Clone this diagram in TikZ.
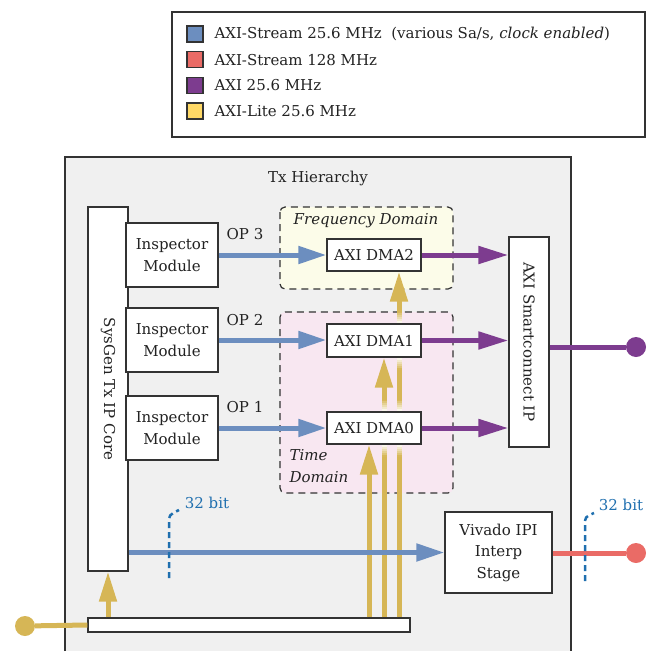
\documentclass[tikz,border=0pt]{standalone}
\usepackage{fontspec}
\setmainfont{DejaVu Serif}
\usetikzlibrary{arrows.meta, positioning, calc}
\definecolor{streamBlue}{HTML}{6C8EBF}
\definecolor{streamRed}{HTML}{EA6B66}
\definecolor{axiPurple}{HTML}{7D3C8F}
\definecolor{liteYellow}{HTML}{FFD966}
\definecolor{liteLine}{HTML}{D6B656}
\definecolor{bitBlue}{HTML}{1F6FAF}
\definecolor{edgeGray}{HTML}{333333}
\definecolor{textGray}{HTML}{222222}
\definecolor{hierFill}{HTML}{F0F0F0}
\definecolor{freqFill}{HTML}{FCFCE9}
\definecolor{timeFill}{HTML}{F8E7F1}
\tikzset{
  block/.style={draw=edgeGray, fill=white, line width=1.3pt, inner sep=0pt, align=center},
  swatch/.style={draw=edgeGray, line width=1.3pt, minimum size=16pt, inner sep=0pt},
  region/.style={draw=edgeGray, line width=1.2pt, dash pattern=on 7pt off 5pt, rounded corners=5pt},
  note/.style={font=\fontsize{15}{21.5}\selectfont\itshape},
  dot/.style={circle, minimum size=20pt, inner sep=0pt},
  blue stream/.style={streamBlue, line width=5pt, -{Triangle[length=28pt, width=17pt]}},
  axi link/.style={axiPurple, line width=5pt, -{Triangle[length=30pt, width=17pt]}},
  lite line/.style={liteLine, line width=5pt},
  lite arrow/.style={lite line, -{Triangle[length=30pt, width=17pt]}},
  bitmark/.style={bitBlue, line width=2.5pt, dash pattern=on 6pt off 4pt}
}
% fade of a lite line next to a box edge: #1 edge point, #2 = 1 (below) or -1 (above)
\newcommand{\liteFade}[2]{%
  \foreach \k [evaluate=\k as \p using int(12+17*\k)] in {0,...,5}
    \fill[liteLine!\p!white] ($#1+(-2.5,#2*2*\k)$) rectangle ($#1+(2.5,#2*2*\k+#2*2.4)$);}

\begin{document}
\begin{tikzpicture}[x=1pt, y=-1pt, font=\fontsize{15}{21.5}\selectfont, text=textGray]
    \useasboundingbox (0,0) rectangle (656,651);

    % legend
    \draw[edgeGray, line width=2pt] (172,12) rectangle (645,137);
    \foreach \swcol/\entry [count=\i] in {streamBlue/{AXI-Stream 25.6 MHz\ \ (various Sa/s, \textit{clock enabled})}, streamRed/{AXI-Stream 128 MHz}, axiPurple/{AXI 25.6 MHz}, liteYellow/{AXI-Lite 25.6 MHz}}
    {
        \node[swatch, fill=\swcol] (sw\i) at (195, 8.3+25.7*\i) {};
        \node[anchor=west] (key\i) at (211, 8.3+25.7*\i) {\entry};
    }

    % hierarchy
    \fill[hierFill] (65,157) rectangle (571,651);
    \draw[edgeGray, line width=2pt] (65,651) -- (65,157) -- (571,157) -- (571,651);
    \node (hiertitle) at (318,178) {Tx Hierarchy};

    \draw[region, fill=freqFill] (280,207) rectangle (453,289);
    \draw[region, fill=timeFill] (280,312) rectangle (453,493);
    \node[note] (freqlabel) at (366,221) {Frequency Domain};
    \node[note, anchor=west, align=left] (timelabel) at (286,466) {Time\\Domain};

    % blocks
    \node[block, minimum width=40pt, minimum height=364pt] (sysgen) at (108,389) {};
    \node[rotate=-90] (sysgentext) at (sysgen) {SysGen Tx IP Core};
    \node[block, minimum width=92pt, minimum height=64pt] (insp3) at (172,255) {Inspector\\Module};
    \node[block, minimum width=92pt, minimum height=64pt] (insp2) at (172,340) {Inspector\\Module};
    \node[block, minimum width=92pt, minimum height=64pt] (insp1) at (172,428) {Inspector\\Module};
    \node[block, minimum width=94pt, minimum height=32pt] (dma2) at (374,255) {AXI DMA2};
    \node[block, minimum width=94pt, minimum height=33pt] (dma1) at (374,340.5) {AXI DMA1};
    \node[block, minimum width=94pt, minimum height=32pt] (dma0) at (374,428) {AXI DMA0};
    \node[block, minimum width=40pt, minimum height=210pt] (smart) at (529,342) {};
    \node[rotate=-90] (smarttext) at (smart) {AXI Smartconnect IP};
    \node[block, minimum width=107pt, minimum height=81pt] (vivado) at (498.5,552.5) {Vivado IPI\\Interp\\Stage};

    % AXI-Lite lines
    \coordinate (l1) at (369,0);
    \coordinate (l2) at (384,0);
    \coordinate (l3) at (399,0);
    \node[block, minimum width=322pt, minimum height=14pt] (clkbar) at (249,625) {};
    \draw[lite arrow] (l1 |- clkbar.north) -- (l1 |- dma0.south);
    \draw[lite line] (l2 |- clkbar.north) -- ($(l2 |- dma0.south)+(0,11)$);
    \draw[lite line] (l3 |- clkbar.north) -- ($(l3 |- dma0.south)+(0,11)$);
    \liteFade{(l2 |- dma0.south)}{1}
    \liteFade{(l3 |- dma0.south)}{1}
    \liteFade{(l2 |- dma0.north)}{-1}
    \liteFade{(l3 |- dma0.north)}{-1}
    \draw[lite arrow] ($(l2 |- dma0.north)+(0,-11)$) -- (l2 |- dma1.south);
    \draw[lite line] ($(l3 |- dma0.north)+(0,-11)$) -- ($(l3 |- dma1.south)+(0,11)$);
    \liteFade{(l3 |- dma1.south)}{1}
    \liteFade{(l3 |- dma1.north)}{-1}
    \draw[lite arrow] ($(l3 |- dma1.north)+(0,-11)$) -- (l3 |- dma2.south);

    \node[dot, fill=liteLine] (liteport) at (25,626) {};
    \draw[lite line] (liteport) -- (clkbar.west);
    \draw[lite arrow] (clkbar.north -| sysgen.south) -- (sysgen.south);

    % streams
    \node[anchor=south] (op3) at (245,243) {OP 3};
    \node[anchor=south] (op2) at (245,329) {OP 2};
    \node[anchor=south] (op1) at (245,416) {OP 1};
    \draw[blue stream] (insp3.east) -- (dma2.west);
    \draw[blue stream] (insp2.east) -- (insp2.east -| dma1.west);
    \draw[blue stream] (insp1.east) -- (dma0.west);
    \draw[axi link] (dma2.east) -- (dma2.east -| smart.west);
    \draw[axi link] (dma1.east) -- (dma1.east -| smart.west);
    \draw[axi link] (dma0.east) -- (dma0.east -| smart.west);

    \node[dot, fill=axiPurple] (axiport) at (636,347) {};
    \draw[axiPurple, line width=5pt] (smart.east |- axiport) -- (axiport);

    \draw[blue stream] (sysgen.east |- vivado.west) -- (vivado.west);
    \node[dot, fill=streamRed] (dacport) at (636,553) {};
    \draw[streamRed, line width=5pt] (vivado.east |- dacport) -- (dacport);

    % bus widths
    \node[bitBlue] (bitleft) at (207,503) {32 bit};
    \draw[bitmark] (169,578) -- (169,523) .. controls (169,515) .. (179,510);
    \node[bitBlue] (bitright) at (621,505) {32 bit};
    \draw[bitmark] (585,581) -- (585,525) .. controls (585,517) .. (594,513);
\end{tikzpicture}
\end{document}
